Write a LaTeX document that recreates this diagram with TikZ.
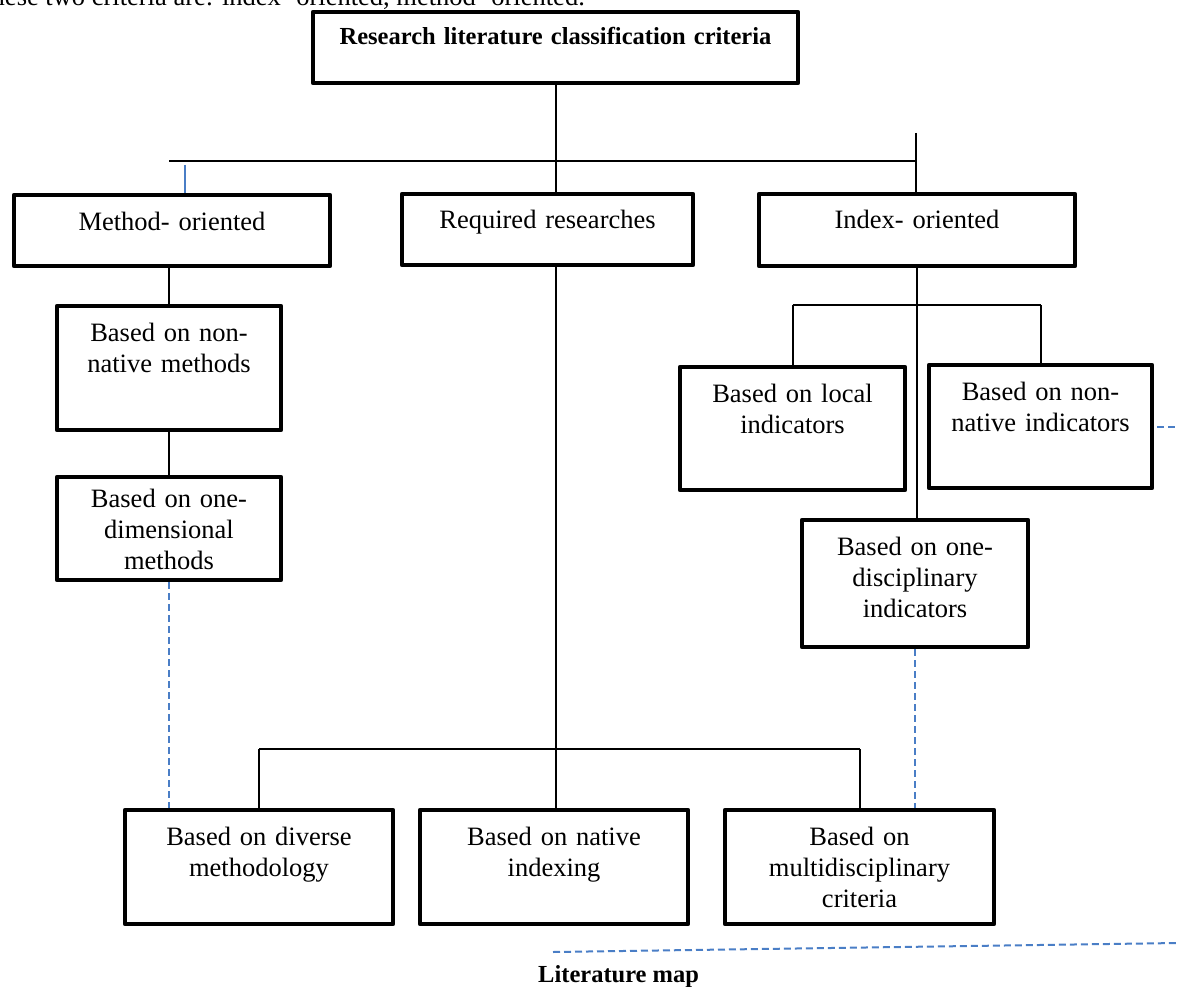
\documentclass[tikz,border=0pt]{standalone}
\usepackage{fontspec}
\setmainfont{Liberation Serif}
\usetikzlibrary{calc}
\definecolor{wblue}{HTML}{4A7EC6}
\begin{document}
\begin{tikzpicture}[x=1pt,y=-1pt,
  box/.style={draw, line width=4.5pt, line join=round, inner sep=0pt, align=center,
    font=\fontsize{26.5}{31}\selectfont, text height=35pt},
  titlebox/.style={box, font=\fontsize{24.5}{29}\selectfont\bfseries, text height=33pt},
  conn/.style={line width=2pt, black},
  bluesolid/.style={line width=2pt, wblue},
  bluedash/.style={line width=2pt, wblue, dash pattern=on 7pt off 4pt},
  plain/.style={inner sep=0pt, font=\fontsize{26.5}{31}\selectfont},
  boldtext/.style={inner sep=0pt, font=\fontsize{24.5}{29}\selectfont\bfseries}]
\useasboundingbox (0,0) rectangle (1178,987);

% intro text (clipped at top)
\node[plain, anchor=base east] (intro) at (585,6) {these two criteria are: index- oriented, method- oriented.};

% boxes
\node[titlebox, text width=485pt, text depth=38pt] (title) at (555.5,47.5) {Research literature classification criteria};
\node[box, text width=316pt, text depth=36pt] (method) at (172,230.5) {Method- oriented};
\node[box, text width=291pt, text depth=36pt] (required) at (547.5,229.5) {Required researches};
\node[box, text width=316pt, text depth=37pt] (index) at (917,230) {Index- oriented};
\node[box, text width=224pt, text depth=89pt] (nnmeth) at (169,368) {Based on non-\\native methods};
\node[box, text width=224pt, text height=30pt, text depth=73pt] (onedim) at (169,528.5) {Based on one-\\dimensional\\methods};
\node[box, text width=225pt, text depth=88pt] (local) at (792.5,428.5) {Based on local\\indicators};
\node[box, text width=223pt, text depth=88pt] (nnind) at (1040.5,426.5) {Based on non-\\native indicators};
\node[box, text width=226pt, text depth=92pt] (onedisc) at (915,583.5) {Based on one-\\disciplinary\\indicators};
\node[box, text width=268pt, text depth=79pt] (diverse) at (259,867) {Based on diverse\\methodology};
\node[box, text width=268pt, text depth=79pt] (native) at (554,867) {Based on native\\indexing};
\node[box, text width=269pt, text depth=79pt] (multi) at (859.5,867) {Based on\\multidisciplinary\\criteria};

\node[boldtext, anchor=base west] (map) at (538,982) {Literature map};

% helper coordinates
\coordinate (hl) at (169,161);
\coordinate (hr) at (916,161);
\coordinate (stub) at (916,133);
\coordinate (bl) at (185,165);
\coordinate (bot) at (0,749);
\coordinate (ih) at (0,305);
\coordinate (edgeR) at (1178,427);
\coordinate (d1) at (553,952);
\coordinate (d2) at (1178,943);

% top level connectors
\draw[conn] (title.south) -- (title.south |- required.north);
\draw[conn] (hl) -- (hr);
\draw[conn] (stub) -- (stub |- index.north);
\draw[bluesolid] (bl) -- (bl |- method.north);

% method branch
\draw[conn] (nnmeth.north) -- (nnmeth.north |- method.south);
\draw[conn] (onedim.north) -- (onedim.north |- nnmeth.south);
\draw[bluedash] (onedim.south) -- (onedim.south |- diverse.north);

% required branch
\draw[conn] (title.south |- required.south) -- (title.south |- native.north);
\draw[conn] (diverse.north |- bot) -- (multi.north |- bot);
\draw[conn] (diverse.north) -- (diverse.north |- bot);
\draw[conn] (multi.north) -- (multi.north |- bot);

% index branch
\draw[conn] (index.south) -- (index.south |- onedisc.north);
\draw[conn] (local.north |- ih) -- (nnind.north |- ih);
\draw[conn] (local.north) -- (local.north |- ih);
\draw[conn] (nnind.north) -- (nnind.north |- ih);
\draw[bluedash] (onedisc.south) -- (onedisc.south |- multi.north);
\draw[bluedash, shorten <=3pt] (nnind.east |- edgeR) -- (edgeR);

% bottom dashed line
\draw[bluedash] (d1) -- (d2);
\end{tikzpicture}
\end{document}
